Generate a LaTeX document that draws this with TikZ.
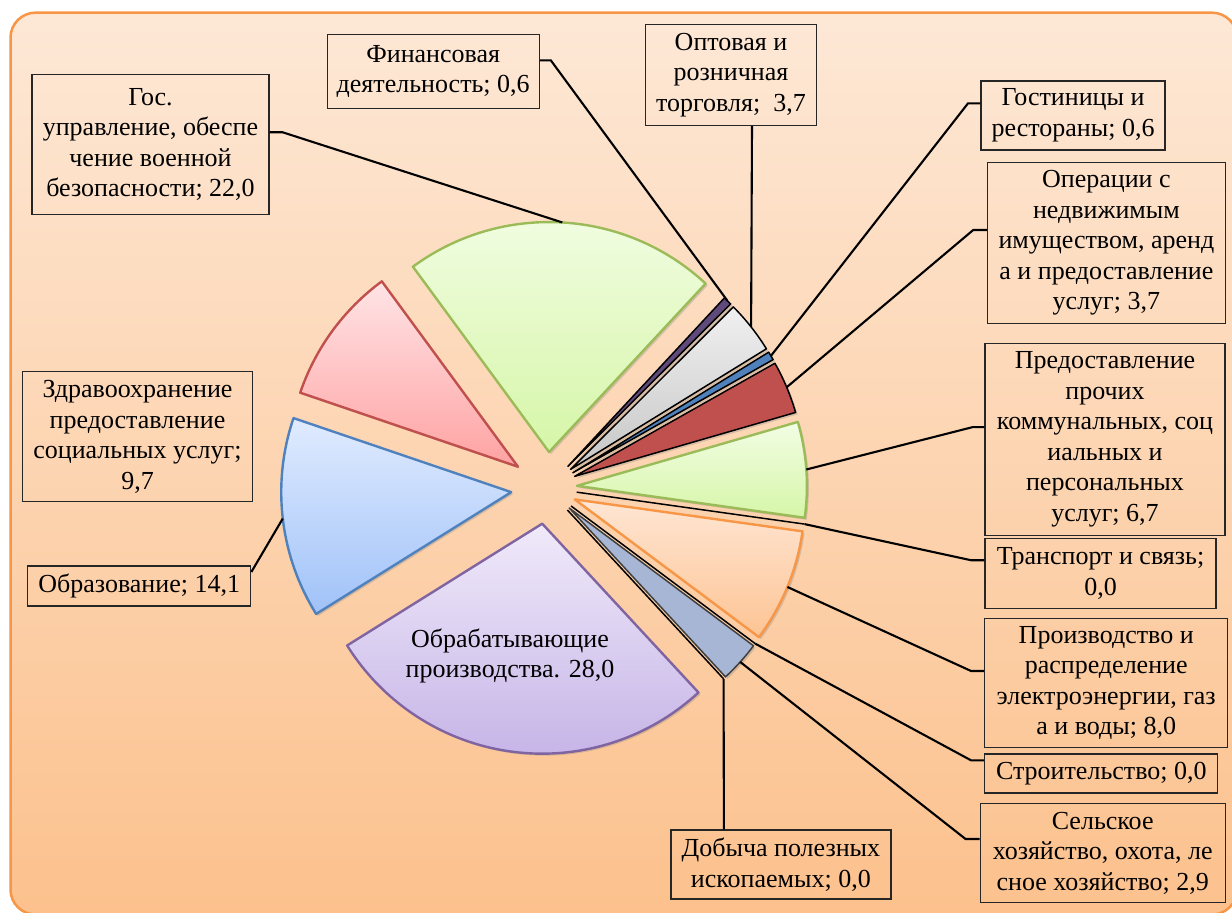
\documentclass[tikz,border=0pt]{standalone}
\usepackage{fontspec}
\setmainfont{Liberation Serif}
\usetikzlibrary{shadows}
\definecolor{bgtop}{RGB}{253,232,214}
\definecolor{bgbottom}{RGB}{252,193,141}
\definecolor{bgline}{RGB}{247,150,70}
\definecolor{greenline}{RGB}{155,187,89}
\definecolor{greentop}{RGB}{242,253,228}
\definecolor{greenbottom}{RGB}{214,246,168}
\definecolor{pinkline}{RGB}{192,80,77}
\definecolor{pinktop}{RGB}{255,228,230}
\definecolor{pinkbottom}{RGB}{255,162,162}
\definecolor{blueline}{RGB}{79,129,189}
\definecolor{bluetop}{RGB}{224,235,255}
\definecolor{bluebottom}{RGB}{160,194,248}
\definecolor{purpleline}{RGB}{128,100,162}
\definecolor{purpletop}{RGB}{240,234,250}
\definecolor{purplebottom}{RGB}{196,178,230}
\definecolor{orangetop}{RGB}{255,230,212}
\definecolor{orangebottom}{RGB}{253,196,148}
\definecolor{grayrtop}{RGB}{240,240,240}
\definecolor{graybottom}{RGB}{198,198,198}
\definecolor{finfill}{RGB}{96,74,123}
\definecolor{selskfill}{RGB}{166,182,212}
\tikzset{
    bgframe/.style={rounded corners=25pt, draw=bgline, line width=2.5pt,
        top color=bgtop, bottom color=bgbottom},
    labelbox/.style={rectangle, draw=black!85, line width=1.3pt, align=center,
        inner sep=1pt, font=\fontsize{26}{30.5}\selectfont},
    slicetext/.style={align=center, font=\fontsize{26}{30.5}\selectfont},
    leader/.style={black, line width=2.1pt},
    zeroline/.style={black, line width=1.5pt},
    slicebase/.style={line join=round,
        drop shadow={shadow xshift=2pt, shadow yshift=-2pt, opacity=0.3}},
    bigslice/.style={slicebase, line width=2.4pt},
    smallslice/.style={slicebase, line width=1.5pt, draw=black},
    gosslice/.style={bigslice, draw=greenline, top color=greentop, bottom color=greenbottom},
    predslice/.style={bigslice, draw=greenline, top color=greentop, bottom color=greenbottom},
    zdravslice/.style={bigslice, draw=pinkline, top color=pinktop, bottom color=pinkbottom},
    obrslice/.style={bigslice, draw=blueline, top color=bluetop, bottom color=bluebottom},
    obrabslice/.style={bigslice, draw=purpleline, top color=purpletop, bottom color=purplebottom},
    proizvslice/.style={bigslice, draw=bgline, top color=orangetop, bottom color=orangebottom},
    finslice/.style={smallslice, fill=finfill},
    optslice/.style={smallslice, top color=grayrtop, bottom color=graybottom},
    gostslice/.style={smallslice, fill=blueline},
    operslice/.style={smallslice, fill=pinkline},
    selskslice/.style={smallslice, draw=black!75, fill=selskfill},
}
\newcommand{\pieradius}{230}
\newcommand{\pieslice}[5]{%
    \pgfmathsetmacro{\midangle}{(#2+#3)/2}
    \path (C) ++(\midangle:#4) coordinate (#1-o);
    \draw[#5] (#1-o) -- ++(#2:\pieradius) arc[start angle=#2, end angle=#3, radius=\pieradius] -- cycle;
    \path (#1-o) ++(\midangle:\pieradius) coordinate (#1-m);
}
\newcommand{\zeroslice}[3]{%
    \path (C) ++(#2:#3) coordinate (#1-o);
    \draw[zeroline] (#1-o) -- ++(#2:\pieradius) coordinate (#1-m);
}
\begin{document}
\begin{tikzpicture}[x=1pt, y=1pt]
    \fill[white] (0,0) rectangle (1232,913);
    \useasboundingbox (0,0) rectangle (1232,913);
    \draw[bgframe] (10.5,-1.5) rectangle (1237,900.3);

    \coordinate (C) at (547,425);
    \pieslice{gos}{126.3}{47.1}{36}{gosslice}
    \pieslice{fin}{47.1}{44.94}{30}{finslice}
    \pieslice{opt}{44.94}{31.62}{30}{optslice}
    \pieslice{gost}{31.62}{29.46}{30}{gostslice}
    \pieslice{oper}{29.46}{16.14}{30}{operslice}
    \pieslice{pred}{16.14}{-7.98}{30}{predslice}
    \zeroslice{trans}{-7.98}{30}
    \pieslice{proizv}{-7.98}{-36.78}{30}{proizvslice}
    \zeroslice{stroi}{-36.78}{30}
    \pieslice{selsk}{-36.78}{-47.22}{30}{selskslice}
    \zeroslice{dob}{-47.22}{30}
    \pieslice{obrab}{-47.22}{-148.02}{36}{obrabslice}
    \pieslice{obr}{-148.02}{-198.78}{36}{obrslice}
    \pieslice{zdrav}{-198.78}{-233.7}{36}{zdravslice}

    \node[slicetext] (obrabtext) at (510,257) {Обрабатывающие\\производства. 28,0};

    \node[labelbox, minimum width=237pt, minimum height=140pt] (gos) at (150.5,768.7) {Гос.\\управление, обеспе\\чение военной\\безопасности; 22,0};
    \node[labelbox, minimum width=212pt, minimum height=74pt] (fin) at (433.2,841.6) {Финансовая\\деятельность; 0,6};
    \node[labelbox, minimum width=171pt, minimum height=101pt] (opt) at (731,838) {Оптовая и\\розничная\\торговля;~ 3,7};
    \node[labelbox, minimum width=184pt, minimum height=69pt] (gost) at (1073.1,797.6) {Гостиницы и\\рестораны; 0,6};
    \node[labelbox, minimum width=238pt, minimum height=161pt] (oper) at (1106.4,670) {Операции с\\недвижимым\\имуществом, аренд\\а и предоставление\\услуг; 3,7};
    \node[labelbox, minimum width=240pt, minimum height=192pt] (pred) at (1105,473.8) {Предоставление\\прочих\\коммунальных, соц\\иальных и\\персональных\\услуг; 6,7};
    \node[labelbox, minimum width=231pt, minimum height=70pt] (trans) at (1100.5,339.7) {Транспорт и связь;\\0,0};
    \node[labelbox, minimum width=243pt, minimum height=129pt] (proizv) at (1106.2,230) {Производство и\\распределение\\электроэнергии, газ\\а и воды; 8,0};
    \node[labelbox, minimum width=233pt, minimum height=39pt] (stroi) at (1101.3,139.6) {Строительство; 0,0};
    \node[labelbox, minimum width=245pt, minimum height=99pt] (selsk) at (1102.7,60) {Сельское\\хозяйство, охота, ле\\сное хозяйство; 2,9};
    \node[labelbox, minimum width=220pt, minimum height=69pt] (dob) at (780.9,48.5) {Добыча полезных\\ископаемых; 0,0};
    \node[labelbox, minimum width=223pt, minimum height=40pt] (obr) at (139.2,327) {Образование; 14,1};
    \node[labelbox, minimum width=230pt, minimum height=130pt] (zdrav) at (137.5,476.3) {Здравоохранение\\предоставление\\социальных услуг;\\9,7};

    \draw[leader] ([yshift=12pt]gos.east) -- ++(13,0) -- (gos-m);
    \draw[leader] ([yshift=11pt]fin.east) -- ++(11,0) -- (fin-m);
    \draw[leader] ([xshift=21pt]opt.south) -- (opt-m);
    \draw[leader] ([yshift=12pt]gost.west) -- ++(-12.5,0) -- (gost-m);
    \draw[leader] ([yshift=13pt]oper.west) -- ++(-13.5,0) -- (oper-m);
    \draw[leader] ([yshift=12pt]pred.west) -- ++(-12,0) -- (pred-m);
    \draw[leader] ([yshift=13pt]trans.west) -- ++(-13,0) -- (trans-m);
    \draw[leader] ([yshift=12pt]proizv.west) -- ++(-13,0) -- (proizv-m);
    \draw[leader] ([yshift=13pt]stroi.west) -- ++(-13,0) -- (stroi-m);
    \draw[leader] ([yshift=14pt]selsk.west) -- ++(-14,0) -- (selsk-m);
    \draw[leader] ([xshift=-57pt]dob.north) -- (dob-m);
    \draw[leader] ([yshift=14pt]obr.east) -- (obr-m);
\end{tikzpicture}
\end{document}
